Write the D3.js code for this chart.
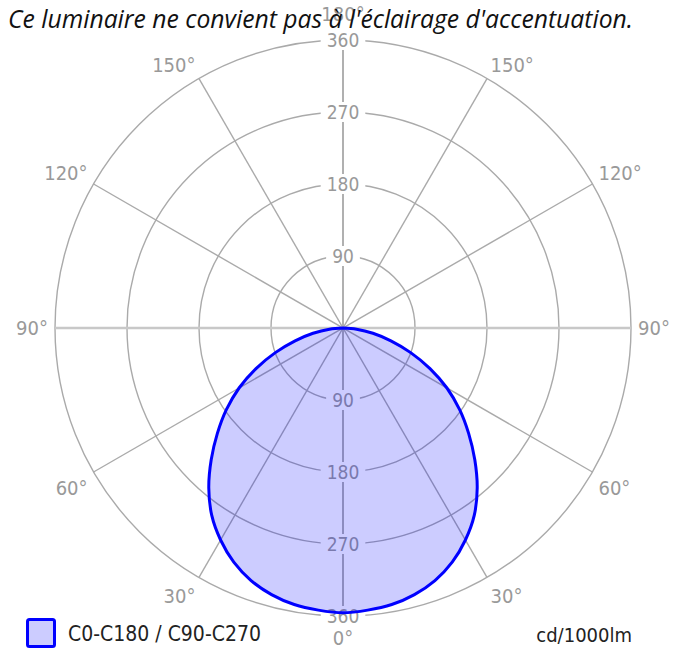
<!DOCTYPE html>
<html>
<head>
<meta charset="utf-8">
<script src="https://cdn.jsdelivr.net/npm/d3@7"></script>
<style>
body { margin: 0; background: #fff; }
text { font-family: "DejaVu Sans Condensed", "DejaVu Sans", sans-serif; font-stretch: condensed; }
</style>
</head>
<body>
<svg id="chart" width="681" height="657"></svg>
<script>
// intensity in cd/1000lm per gamma angle (C0-C180 and C90-C270 read the same)
const gammaAngles = [0, 5, 10, 15, 20, 25, 30, 35, 40, 45, 50, 55, 60, 65, 70, 75, 80, 85, 90];
const intensity = [356, 354, 351, 345, 336, 323, 306, 286, 261, 233, 205, 178, 150, 120, 90, 62, 38, 17, 0];
const radialTicks = [90, 180, 270, 360];
const spokeAngles = [0, 30, 60, 90, 120, 150];
const angleLabels = [0, 30, 60, 90, 120, 150, 180];
const legendLabel = "C0-C180 / C90-C270";
const unitLabel = "cd/1000lm";
const title = "Ce luminaire ne convient pas à l'éclairage d'accentuation.";

const svg = d3.select('#chart');
const cx = 343, cy = 328;
const r = d3.scaleLinear().domain([0, 360]).range([0, 288]);
const toRad = d => d * Math.PI / 180;
const R = r(360);

const g = svg.append('g').attr('transform', `translate(${cx},${cy})`);

//grid circles
g.append('g').selectAll('circle').data(radialTicks).join('circle')
    .attr('r', d => r(d))
    .attr('fill', 'none')
    .attr('stroke', '#aaa')
    .attr('stroke-width', 1.4);

//spokes, gamma measured from straight down
g.append('g').selectAll('line').data(spokeAngles).join('line')
    .attr('x1', d => R * Math.sin(toRad(d)))
    .attr('y1', d => R * Math.cos(toRad(d)))
    .attr('x2', d => -R * Math.sin(toRad(d)))
    .attr('y2', d => -R * Math.cos(toRad(d)))
    .attr('stroke', d => d === 90 ? '#c8c8c8' : (d === 0 ? '#b0b0b0' : '#aaa'))
    .attr('stroke-width', d => d === 90 ? 2.6 : (d === 0 ? 2 : 1.4));

//radial value labels, above and below the centre
const tickPos = radialTicks.flatMap(v => [{v: v, y: -r(v)}, {v: v, y: r(v)}]);
const tl = g.append('g').selectAll('g').data(tickPos).join('g')
    .attr('transform', d => `translate(0,${d.y})`);
tl.append('text')
    .attr('text-anchor', 'middle')
    .attr('dy', '0.36em')
    .attr('fill', '#999')
    .style('font-size', '19px')
    .text(d => d.v);
tl.each(function() {
    const t = d3.select(this).select('text');
    const w = t.node().getComputedTextLength();
    d3.select(this).insert('rect', 'text')
        .attr('x', -w / 2 - 6)
        .attr('y', -10)
        .attr('width', w + 12)
        .attr('height', 20)
        .attr('fill', '#fff');
});

//angle labels round the outside
const gap = 7;
const angPos = [];
angleLabels.forEach(a => {
    if (a === 0 || a === 180) {
        angPos.push({a: a, dx: 0, dy: a === 0 ? 1 : -1});
    } else {
        angPos.push({a: a, dx: -Math.sin(toRad(a)), dy: Math.cos(toRad(a))});
        angPos.push({a: a, dx: Math.sin(toRad(a)), dy: Math.cos(toRad(a))});
    }
});
g.append('g').selectAll('text').data(angPos).join('text')
    .attr('x', d => d.dx * (R + gap))
    .attr('y', d => {
        let y = d.dy * (R + gap);
        if (d.dy > 0.1) y += 12;
        if (d.dy < -0.1) y -= 8;
        if (d.a === 180) y -= 11;
        if (d.a === 0) y += 3;
        return y;
    })
    .attr('dy', '0.36em')
    .attr('text-anchor', d => d.dx < -0.1 ? 'end' : (d.dx > 0.1 ? 'start' : 'middle'))
    .attr('fill', '#999')
    .style('font-size', '20px')
    .text(d => `${d.a}°`);

//intensity curve, right half then left half
const pts = [];
for (let i = gammaAngles.length - 1; i >= 0; i--) {
    pts.push([Math.PI - toRad(gammaAngles[i]), intensity[i]]);
}
for (let i = 1; i < gammaAngles.length; i++) {
    pts.push([Math.PI + toRad(gammaAngles[i]), intensity[i]]);
}
const curve = d3.lineRadial()
    .angle(d => d[0])
    .radius(d => r(d[1]))
    .curve(d3.curveCatmullRom.alpha(0.5));

g.append('path')
    .attr('d', curve(pts) + 'Z')
    .attr('fill', 'rgba(0,0,255,0.2)')
    .attr('stroke', '#0000ff')
    .attr('stroke-width', 3)
    .attr('stroke-linejoin', 'round');

//legend
svg.append('rect')
    .attr('x', 27.5).attr('y', 619.5)
    .attr('width', 27).attr('height', 27)
    .attr('rx', 2)
    .attr('fill', '#ccccff')
    .attr('stroke', '#0000ff')
    .attr('stroke-width', 3);
svg.append('text')
    .attr('x', 68).attr('y', 641)
    .attr('fill', '#222')
    .style('font-size', '21px')
    .text(legendLabel);
svg.append('text')
    .attr('x', 632).attr('y', 642)
    .attr('text-anchor', 'end')
    .attr('fill', '#222')
    .style('font-size', '20px')
    .text(unitLabel);

//title on top
svg.append('text')
    .attr('x', 8).attr('y', 28)
    .attr('fill', '#111')
    .style('font-family', '"Open Sans", sans-serif')
    .style('font-stretch', 'normal')
    .style('font-style', 'italic')
    .style('font-size', '24.7px')
    .text(title);
</script>
</body>
</html>
